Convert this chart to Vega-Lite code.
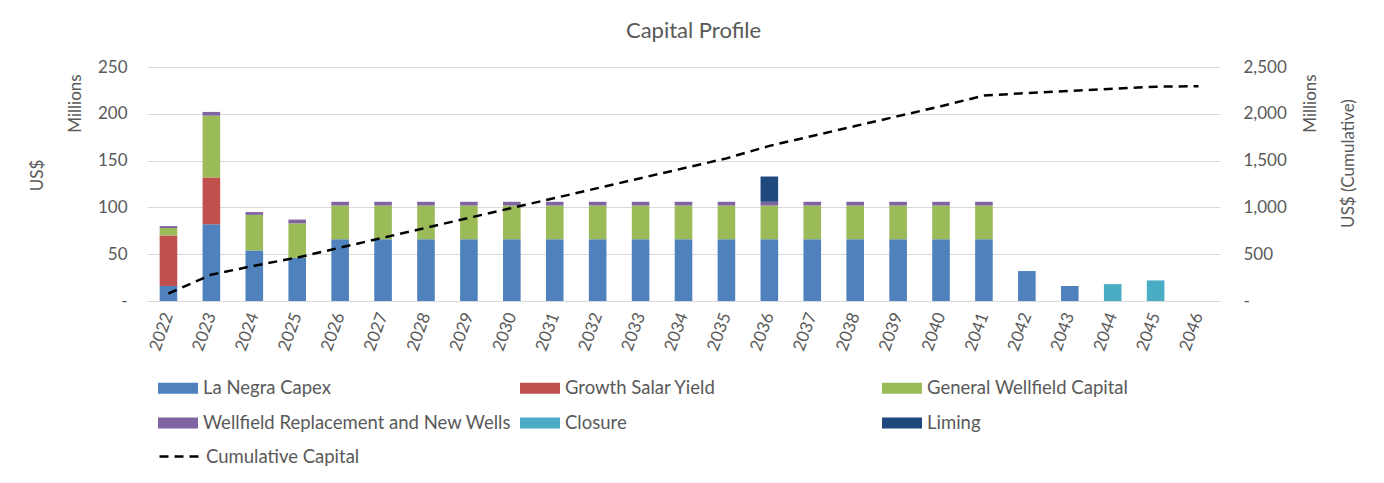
{
  "$schema": "https://vega.github.io/schema/vega-lite/v6.json",
  "autosize": "none",
  "width": 1073,
  "height": 234,
  "padding": {"left": 147, "top": 67, "right": 164, "bottom": 182},
  "background": "white",
  "config": {
    "font": "Lato",
    "view": {"stroke": null},
    "axis": {"labelFont": "Lato", "titleFont": "Lato", "labelColor": "#595959", "titleColor": "#595959", "titleFontWeight": "normal", "labelFontSize": 17, "titleFontSize": 17},
    "legend": {"labelFont": "Lato", "labelColor": "#595959", "labelFontSize": 18.5}
  },
  "title": {"text": "Capital Profile", "font": "Lato", "fontSize": 22, "fontWeight": "normal", "color": "#595959", "anchor": "middle", "dx": 10, "offset": 15},
  "datasets": {
    "bars": [
      {"year": "2022", "category": "La Negra Capex", "value": 16},
      {"year": "2022", "category": "Growth Salar Yield", "value": 54},
      {"year": "2022", "category": "General Wellfield Capital", "value": 8},
      {"year": "2022", "category": "Wellfield Replacement and New Wells", "value": 2},
      {"year": "2023", "category": "La Negra Capex", "value": 82},
      {"year": "2023", "category": "Growth Salar Yield", "value": 50},
      {"year": "2023", "category": "General Wellfield Capital", "value": 66},
      {"year": "2023", "category": "Wellfield Replacement and New Wells", "value": 4},
      {"year": "2024", "category": "La Negra Capex", "value": 54},
      {"year": "2024", "category": "General Wellfield Capital", "value": 38},
      {"year": "2024", "category": "Wellfield Replacement and New Wells", "value": 3},
      {"year": "2025", "category": "La Negra Capex", "value": 46},
      {"year": "2025", "category": "General Wellfield Capital", "value": 37},
      {"year": "2025", "category": "Wellfield Replacement and New Wells", "value": 4},
      {"year": "2026", "category": "La Negra Capex", "value": 66},
      {"year": "2026", "category": "General Wellfield Capital", "value": 36},
      {"year": "2026", "category": "Wellfield Replacement and New Wells", "value": 4},
      {"year": "2027", "category": "La Negra Capex", "value": 66},
      {"year": "2027", "category": "General Wellfield Capital", "value": 36},
      {"year": "2027", "category": "Wellfield Replacement and New Wells", "value": 4},
      {"year": "2028", "category": "La Negra Capex", "value": 66},
      {"year": "2028", "category": "General Wellfield Capital", "value": 36},
      {"year": "2028", "category": "Wellfield Replacement and New Wells", "value": 4},
      {"year": "2029", "category": "La Negra Capex", "value": 66},
      {"year": "2029", "category": "General Wellfield Capital", "value": 36},
      {"year": "2029", "category": "Wellfield Replacement and New Wells", "value": 4},
      {"year": "2030", "category": "La Negra Capex", "value": 66},
      {"year": "2030", "category": "General Wellfield Capital", "value": 36},
      {"year": "2030", "category": "Wellfield Replacement and New Wells", "value": 4},
      {"year": "2031", "category": "La Negra Capex", "value": 66},
      {"year": "2031", "category": "General Wellfield Capital", "value": 36},
      {"year": "2031", "category": "Wellfield Replacement and New Wells", "value": 4},
      {"year": "2032", "category": "La Negra Capex", "value": 66},
      {"year": "2032", "category": "General Wellfield Capital", "value": 36},
      {"year": "2032", "category": "Wellfield Replacement and New Wells", "value": 4},
      {"year": "2033", "category": "La Negra Capex", "value": 66},
      {"year": "2033", "category": "General Wellfield Capital", "value": 36},
      {"year": "2033", "category": "Wellfield Replacement and New Wells", "value": 4},
      {"year": "2034", "category": "La Negra Capex", "value": 66},
      {"year": "2034", "category": "General Wellfield Capital", "value": 36},
      {"year": "2034", "category": "Wellfield Replacement and New Wells", "value": 4},
      {"year": "2035", "category": "La Negra Capex", "value": 66},
      {"year": "2035", "category": "General Wellfield Capital", "value": 36},
      {"year": "2035", "category": "Wellfield Replacement and New Wells", "value": 4},
      {"year": "2036", "category": "La Negra Capex", "value": 66},
      {"year": "2036", "category": "General Wellfield Capital", "value": 36},
      {"year": "2036", "category": "Wellfield Replacement and New Wells", "value": 4},
      {"year": "2036", "category": "Liming", "value": 27},
      {"year": "2037", "category": "La Negra Capex", "value": 66},
      {"year": "2037", "category": "General Wellfield Capital", "value": 36},
      {"year": "2037", "category": "Wellfield Replacement and New Wells", "value": 4},
      {"year": "2038", "category": "La Negra Capex", "value": 66},
      {"year": "2038", "category": "General Wellfield Capital", "value": 36},
      {"year": "2038", "category": "Wellfield Replacement and New Wells", "value": 4},
      {"year": "2039", "category": "La Negra Capex", "value": 66},
      {"year": "2039", "category": "General Wellfield Capital", "value": 36},
      {"year": "2039", "category": "Wellfield Replacement and New Wells", "value": 4},
      {"year": "2040", "category": "La Negra Capex", "value": 66},
      {"year": "2040", "category": "General Wellfield Capital", "value": 36},
      {"year": "2040", "category": "Wellfield Replacement and New Wells", "value": 4},
      {"year": "2041", "category": "La Negra Capex", "value": 66},
      {"year": "2041", "category": "General Wellfield Capital", "value": 36},
      {"year": "2041", "category": "Wellfield Replacement and New Wells", "value": 4},
      {"year": "2042", "category": "La Negra Capex", "value": 32},
      {"year": "2043", "category": "La Negra Capex", "value": 16},
      {"year": "2044", "category": "Closure", "value": 18},
      {"year": "2045", "category": "Closure", "value": 22},
      {"year": "2046", "category": "Closure", "value": 0}
    ],
    "cum": [
      {"year": "2022", "series": "Cumulative Capital", "cumulative": 80},
      {"year": "2023", "series": "Cumulative Capital", "cumulative": 282},
      {"year": "2024", "series": "Cumulative Capital", "cumulative": 377},
      {"year": "2025", "series": "Cumulative Capital", "cumulative": 464},
      {"year": "2026", "series": "Cumulative Capital", "cumulative": 570},
      {"year": "2027", "series": "Cumulative Capital", "cumulative": 676},
      {"year": "2028", "series": "Cumulative Capital", "cumulative": 782},
      {"year": "2029", "series": "Cumulative Capital", "cumulative": 888},
      {"year": "2030", "series": "Cumulative Capital", "cumulative": 994},
      {"year": "2031", "series": "Cumulative Capital", "cumulative": 1100},
      {"year": "2032", "series": "Cumulative Capital", "cumulative": 1206},
      {"year": "2033", "series": "Cumulative Capital", "cumulative": 1312},
      {"year": "2034", "series": "Cumulative Capital", "cumulative": 1418},
      {"year": "2035", "series": "Cumulative Capital", "cumulative": 1524},
      {"year": "2036", "series": "Cumulative Capital", "cumulative": 1657},
      {"year": "2037", "series": "Cumulative Capital", "cumulative": 1763},
      {"year": "2038", "series": "Cumulative Capital", "cumulative": 1869},
      {"year": "2039", "series": "Cumulative Capital", "cumulative": 1975},
      {"year": "2040", "series": "Cumulative Capital", "cumulative": 2081},
      {"year": "2041", "series": "Cumulative Capital", "cumulative": 2195},
      {"year": "2042", "series": "Cumulative Capital", "cumulative": 2222},
      {"year": "2043", "series": "Cumulative Capital", "cumulative": 2245},
      {"year": "2044", "series": "Cumulative Capital", "cumulative": 2268},
      {"year": "2045", "series": "Cumulative Capital", "cumulative": 2290},
      {"year": "2046", "series": "Cumulative Capital", "cumulative": 2295}
    ]
  },
  "encoding": {
    "x": {
      "field": "year", "type": "ordinal",
      "scale": {"paddingInner": 0.59, "paddingOuter": 0.295},
      "axis": {"title": null, "labelAngle": -70, "labelAlign": "right", "labelBaseline": "middle", "labelPadding": 12, "ticks": false, "domainColor": "#d9d9d9", "domainWidth": 1, "grid": false}
    }
  },
  "layer": [
    {
      "data": {"name": "bars"},
      "transform": [
        {"calculate": "indexof(['La Negra Capex', 'Growth Salar Yield', 'General Wellfield Capital', 'Wellfield Replacement and New Wells', 'Closure', 'Liming'], datum.category)", "as": "stackRank"}
      ],
      "mark": {"type": "bar"},
      "encoding": {
        "y": {
          "field": "value", "type": "quantitative", "aggregate": "sum", "stack": "zero",
          "scale": {"domain": [0, 250], "nice": false},
          "axis": {"values": [0, 50, 100, 150, 200, 250], "title": "US$", "titleAngle": -90, "titleX": -110, "titleY": 108, "titleAlign": "center", "titleBaseline": "middle", "labelPadding": 20, "ticks": false, "domain": false, "gridColor": "#d9d9d9", "gridWidth": 1, "labelExpr": "datum.value == 0 ? '-\u00a0\u00a0' : format(datum.value, ',')"}
        },
        "order": {"field": "stackRank", "type": "quantitative", "aggregate": "min", "sort": "ascending"},
        "color": {
          "field": "category", "type": "nominal",
          "scale": {
            "domain": ["La Negra Capex", "Growth Salar Yield", "General Wellfield Capital", "Wellfield Replacement and New Wells", "Closure", "Liming"],
            "range": ["#4f81bd", "#c0504d", "#9bbb59", "#8064a2", "#4bacc6", "#1f497d"]
          },
          "legend": {
            "title": null, "orient": "none", "legendX": 11, "legendY": 301, "direction": "horizontal", "columns": 3, "gridAlign": "all",
            "symbolType": "M-1,-0.27H1V0.27H-1Z", "symbolSize": 1600, "symbolStrokeWidth": 0, "labelOffset": 5, "columnPadding": 8, "rowPadding": 5, "labelLimit": 400
          }
        }
      }
    },
    {
      "data": {"name": "cum"},
      "mark": {"type": "line", "color": "black", "strokeWidth": 2.5, "strokeDash": [11, 7]},
      "encoding": {
        "y": {
          "field": "cumulative", "type": "quantitative",
          "scale": {"domain": [0, 2500], "nice": false},
          "axis": {"orient": "right", "values": [0, 500, 1000, 1500, 2000, 2500], "grid": false, "ticks": false, "domain": false, "labelPadding": 23, "title": "US$ (Cumulative)", "titleAngle": -90, "titleX": 128, "titleY": 96, "titleAlign": "center", "titleBaseline": "middle", "labelExpr": "datum.value == 0 ? '-' : format(datum.value, ',')"}
        },
        "strokeDash": {
          "field": "series", "type": "nominal",
          "scale": {"domain": ["Cumulative Capital"], "range": [[9, 6]]},
          "legend": {"title": null, "orient": "none", "legendX": 11, "legendY": 368, "symbolType": "M-1,0H1", "symbolSize": 1600, "symbolStrokeWidth": 2.5, "symbolStrokeColor": "black", "labelOffset": 5}
        }
      }
    },
    {
      "data": {"name": "cum"},
      "mark": {"type": "tick", "opacity": 0},
      "encoding": {
        "y": {
          "field": "cumulative", "type": "quantitative",
          "scale": {"domain": [0, 2500], "nice": false},
          "axis": {"orient": "left", "labels": false, "grid": false, "ticks": false, "domain": false, "title": "Millions", "titleAngle": -90, "titleX": -72, "titleY": 36, "titleAlign": "center", "titleBaseline": "middle"}
        }
      }
    },
    {
      "data": {"name": "cum"},
      "mark": {"type": "tick", "opacity": 0},
      "encoding": {
        "y": {
          "field": "cumulative", "type": "quantitative",
          "scale": {"domain": [0, 2500], "nice": false},
          "axis": {"orient": "right", "labels": false, "grid": false, "ticks": false, "domain": false, "title": "Millions", "titleAngle": -90, "titleX": 90, "titleY": 36, "titleAlign": "center", "titleBaseline": "middle"}
        }
      }
    }
  ],
  "resolve": {"scale": {"y": "independent"}}
}
